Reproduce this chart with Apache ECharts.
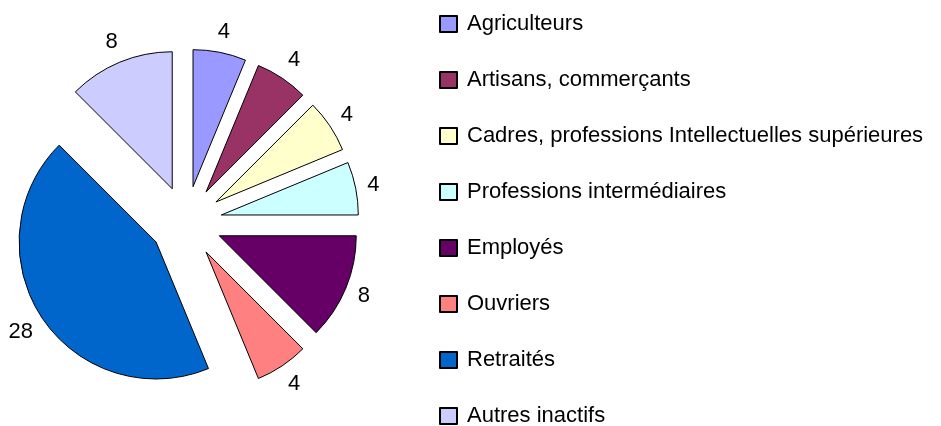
<!DOCTYPE html>
<html>
<head>
<meta charset="utf-8">
<script src="https://cdn.jsdelivr.net/npm/echarts@6/dist/echarts.min.js"></script>
<style>
  html, body { margin: 0; padding: 0; background: #ffffff; }
  #pieChart { width: 941px; height: 426px; }
</style>
</head>
<body>
<div id="pieChart"></div>
<script>
// catégories et effectifs
const categories = [
  "Agriculteurs",
  "Artisans, commerçants",
  "Cadres, professions Intellectuelles supérieures",
  "Professions intermédiaires",
  "Employés",
  "Ouvriers",
  "Retraités",
  "Autres inactifs",
];
const values = [4, 4, 4, 4, 8, 4, 28, 8];
const colors = [
  "#9999ff",
  "#993366",
  "#ffffcc",
  "#ccffff",
  "#660066",
  "#ff8080",
  "#0066cc",
  "#ccccff",
];

const pieCenter = [186, 222];
const pieRadius = 137;
const explode = 36;
const labelPad = 10;
const labelSize = 22;

let myChart = echarts.init(document.getElementById("pieChart"));

// angle médian de chaque part (sens horaire depuis midi), à partir des valeurs
const total = values.reduce((a, b) => a + b, 0);
function midAngle(idx) {
  let before = 0;
  for (let i = 0; i < idx; i++) before += values[i];
  return ((before + values[idx] / 2) / total) * Math.PI * 2;
}

// étiquettes centrées à une distance fixe du bord de la part (comme Excel)
function labelLineFor(idx) {
  const a = midAngle(idx);
  const ux = Math.sin(a);
  const uy = -Math.cos(a);
  const w = String(values[idx]).length * labelSize * 0.556;
  const h = labelSize * 0.9;
  const half = Math.abs(ux) * w / 2 + Math.abs(uy) * h / 2;
  return { show: false, length: labelPad + half, length2: -w / 2 };
}

let data = categories.map((name, i) => ({
  name: name,
  value: values[i],
  selected: true,
  itemStyle: { color: colors[i] },
  select: { itemStyle: { color: colors[i], borderColor: "#000000", borderWidth: 1 } },
  labelLine: labelLineFor(i),
}));

let options = {
  animation: false,
  textStyle: { fontFamily: "Liberation Sans" },
  legend: {
    orient: "vertical",
    left: 439,
    top: 13,
    height: 420,
    padding: 0,
    itemWidth: 17,
    itemHeight: 16,
    itemGap: 34,
    icon: "rect",
    selectedMode: false,
    data: categories,
    textStyle: {
      color: "#000000",
      fontSize: 22,
      fontFamily: "Liberation Sans",
      padding: [0, 0, 0, 5],
    },
  },
  series: [
    {
      type: "pie",
      startAngle: 90,
      clockwise: true,
      center: pieCenter,
      radius: [0, pieRadius],
      selectedMode: "multiple",
      selectedOffset: explode,
      avoidLabelOverlap: false,
      itemStyle: { borderColor: "#000000", borderWidth: 1 },
      label: {
        show: true,
        position: "outside",
        formatter: "{c}",
        color: "#000000",
        fontSize: labelSize,
        fontFamily: "Liberation Sans",
        distanceToLabelLine: 0,
      },
      labelLine: { show: false },
      emphasis: { disabled: true },
      data: data,
    },
  ],
};
myChart.setOption(options);
</script>
</body>
</html>
